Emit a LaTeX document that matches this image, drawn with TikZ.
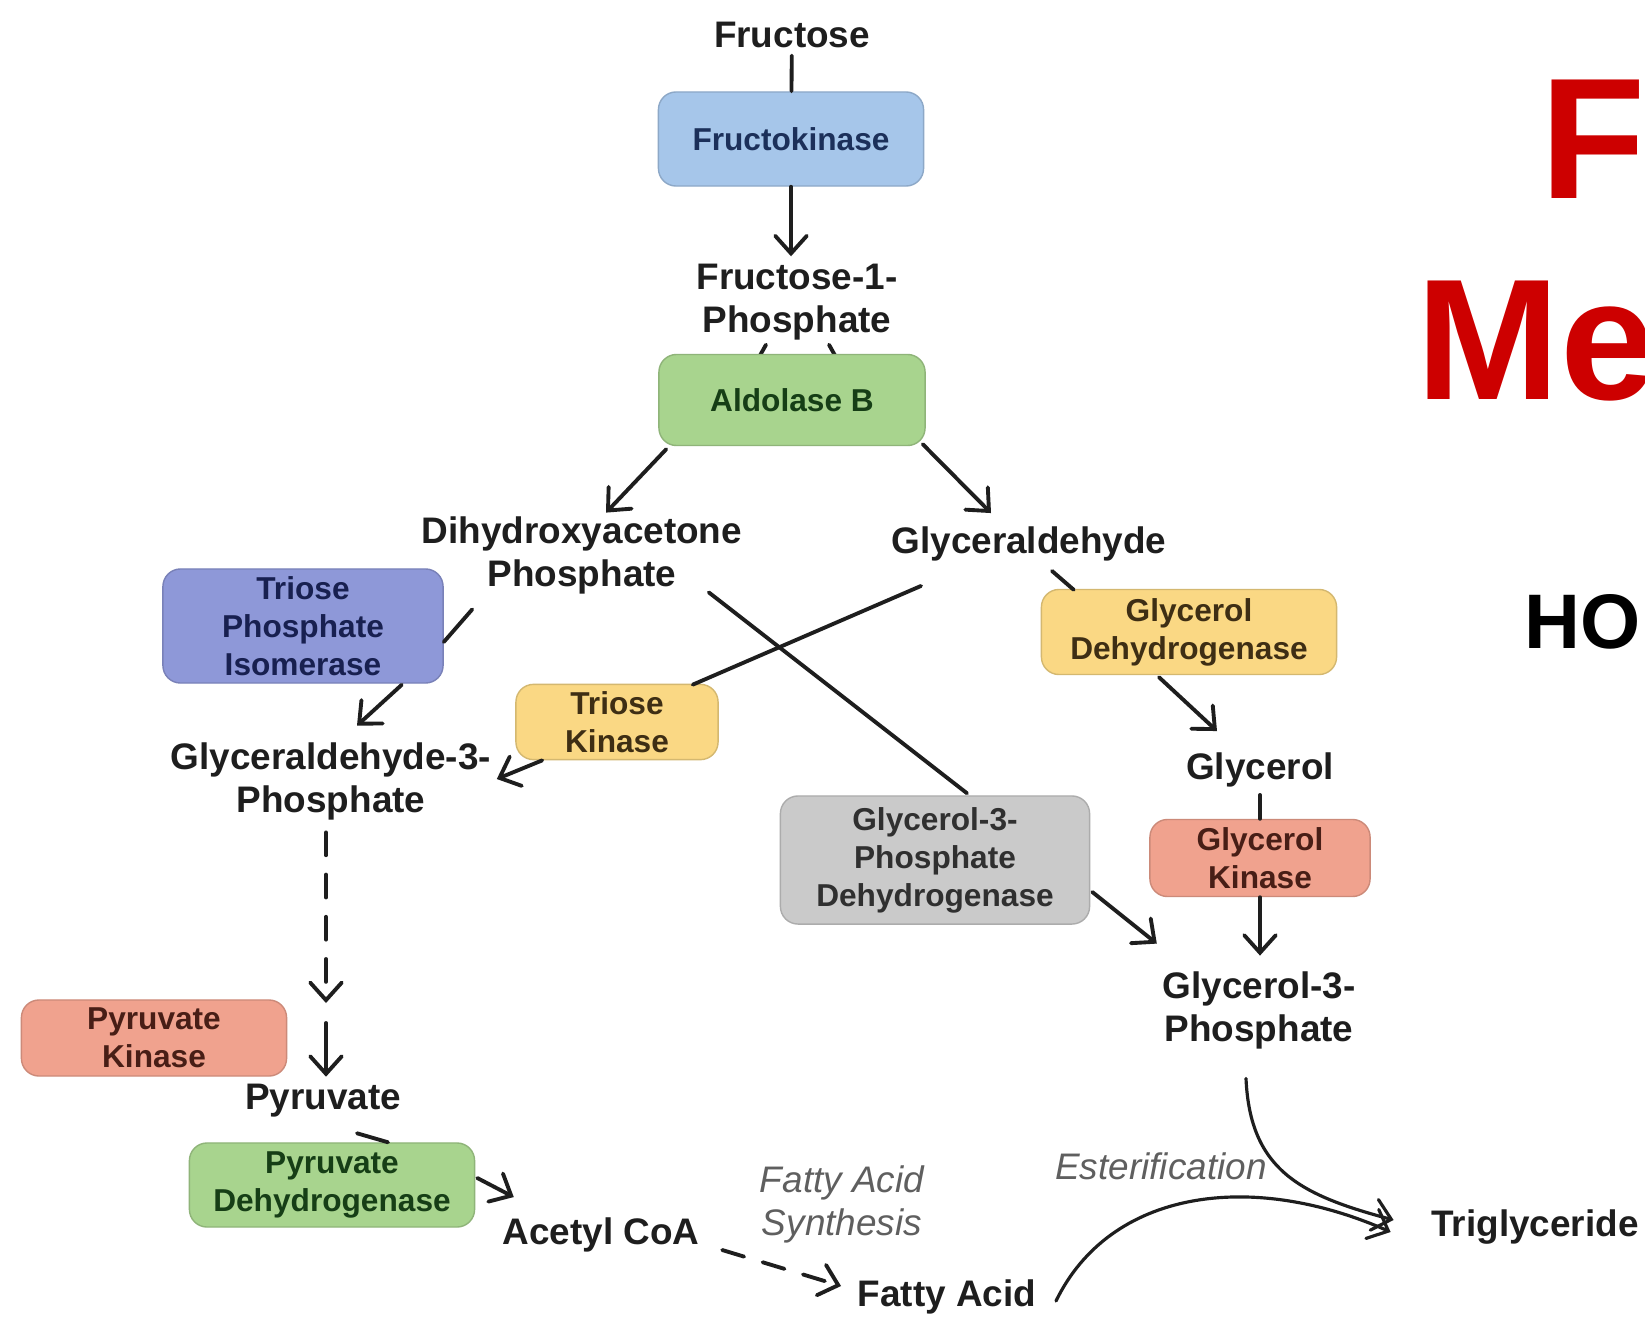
\documentclass[tikz,border=0pt]{standalone}
\usepackage{fontspec}
\setmainfont{Liberation Sans}
\usetikzlibrary{arrows.meta,calc}

\definecolor{txtdark}{RGB}{30,30,30}
\definecolor{labgrey}{RGB}{95,95,95}
\definecolor{titlered}{RGB}{205,0,0}
\definecolor{kinblue}{RGB}{166,198,234}
\definecolor{kinbluetxt}{RGB}{28,48,90}
\definecolor{aldgreen}{RGB}{168,212,142}
\definecolor{aldgreentxt}{RGB}{22,62,22}
\definecolor{isoblue}{RGB}{142,152,216}
\definecolor{isobluetxt}{RGB}{24,32,80}
\definecolor{kinyellow}{RGB}{250,216,132}
\definecolor{kinyellowtxt}{RGB}{62,46,20}
\definecolor{dhgrey}{RGB}{202,202,202}
\definecolor{dhgreytxt}{RGB}{48,48,48}
\definecolor{kinsalmon}{RGB}{240,162,142}
\definecolor{kinsalmontxt}{RGB}{72,30,22}

\begin{document}
\begin{tikzpicture}[x=0.01cm,y=-0.01cm,
    met/.style={font=\bfseries\fontsize{10.5}{12.2}\selectfont,align=center,inner sep=2pt,text=txtdark},
    enz/.style={rounded corners=5pt,font=\bfseries\fontsize{9}{10.8}\selectfont,align=center,inner sep=2pt,line width=0.4pt},
    lab/.style={font=\itshape\fontsize{10.5}{12.2}\selectfont,align=center,inner sep=2pt,text=labgrey},
    ln/.style={line width=1.1pt,draw=txtdark,line cap=round},
    arr/.style={ln,-{Straight Barb[length=5pt,width=9pt,line cap=round]}},
    dasharr/.style={arr,dash pattern=on 6.5pt off 5.5pt},
    ttl/.style={font=\bfseries\fontsize{49}{52}\selectfont,text=titlered,anchor=base west,inner sep=0pt}]

    \useasboundingbox (0,0) rectangle (1645,1318);
    \clip (0,0) rectangle (1645,1318);
    \fill[white] (0,0) rectangle (1645,1318);

    % title, cut off at the right edge
    \node[ttl] (ttlfr) at (1540,198) {F\kern-2.5pt r};
    \node[ttl] (ttlme) at (1416,399) {Me};
    \node[ttl,font=\bfseries\fontsize{22}{24}\selectfont,text=black] (ttlho) at (1524,648) {HO};

    % metabolites
    \node[met] (fru) at (792,35) {Fructose};
    \node[met] (f1p) at (797,302) {Fructose-1-\\Phosphate};
    \node[met] (dhap) at (582,555) {Dihydroxyacetone\\Phosphate};
    \node[met] (gly) at (1029,544) {Glyceraldehyde};
    \node[met] (g3p) at (331,781) {Glyceraldehyde-3-\\Phosphate};
    \node[met] (glol) at (1260,770) {Glycerol};
    \node[met] (g3pr) at (1259,1010) {Glycerol-3-\\Phosphate};
    \node[met] (pyr) at (323,1101) {Pyruvate};
    \node[met] (acoa) at (601,1235) {Acetyl CoA};
    \node[met] (fa) at (947,1297) {Fatty Acid};
    \node[met] (tg) at (1535,1227) {Triglyceride};

    \node[lab] (fas) at (842,1204) {Fatty Acid\\Synthesis};
    \node[lab] (est) at (1161,1166) {Esterification};

    % stubs under Aldolase B
    \draw[ln] ($(f1p.south)+(-31,-3)$) -- ++(-14,25);
    \draw[ln] ($(f1p.south)+(32,-3)$) -- ++(14,25);

    % enzymes
    \node[enz,fill=kinblue,draw=kinblue!85!black,text=kinbluetxt,minimum width=2.65cm,minimum height=0.94cm] (fk) at (791,139) {Fructokinase};
    \node[enz,fill=aldgreen,draw=aldgreen!85!black,text=aldgreentxt,minimum width=2.66cm,minimum height=0.91cm] (aldo) at (792,400) {Aldolase B};
    \node[enz,fill=isoblue,draw=isoblue!85!black,text=isobluetxt,minimum width=2.80cm,minimum height=1.14cm] (tpi) at (303,626) {Triose\\Phosphate\\Isomerase};
    \node[enz,fill=kinyellow,draw=kinyellow!85!black,text=kinyellowtxt,minimum width=2.02cm,minimum height=0.69cm] (tk) at (617,722) {Triose\\Kinase};
    \node[enz,fill=dhgrey,draw=dhgrey!85!black,text=dhgreytxt,minimum width=3.09cm,minimum height=1.28cm] (g3pdh) at (935,860) {Glycerol-3-\\Phosphate\\Dehydrogenase};
    \node[enz,fill=kinyellow,draw=kinyellow!85!black,text=kinyellowtxt,minimum width=2.95cm,minimum height=0.85cm] (gdh) at (1189,632) {Glycerol\\Dehydrogenase};
    \node[enz,fill=kinsalmon,draw=kinsalmon!85!black,text=kinsalmontxt,minimum width=2.20cm,minimum height=0.77cm] (gk) at (1260,858) {Glycerol\\Kinase};
    \node[enz,fill=kinsalmon,draw=kinsalmon!85!black,text=kinsalmontxt,minimum width=2.65cm,minimum height=0.76cm] (pk) at (154,1038) {Pyruvate\\Kinase};
    \node[enz,fill=aldgreen,draw=aldgreen!85!black,text=aldgreentxt,minimum width=2.85cm,minimum height=0.84cm] (pdh) at (332,1185) {Pyruvate\\Dehydrogenase};

    % connectors
    \draw[ln] (fru) -- (fk);
    \draw[arr] (fk.south) -- (fk.south |- f1p.north);
    \draw[arr] ($(aldo.south west)+(8,3)$) -- ($(dhap.north)+(24,4)$);
    \draw[arr] ($(aldo.south east)+(-3,-2)$) -- ($(gly.north)+(-38,-6)$);
    \draw[ln] ($(dhap.south west)+(58,8)$) -- ($(tpi.east)+(0,16)$);
    \draw[arr] ($(tpi.south east)+(-42,1)$) -- ($(g3p.north)+(26,-9)$);
    \draw[ln] ($(gly.south)+(-108,17)$) -- ($(tk.north east)+(-26,1)$);
    \draw[arr] ($(tk.south west)+(27,0)$) -- ($(g3p.east)+(-2,-2)$);
    \draw[ln] ($(dhap.south east)+(-41,-9)$) -- ($(g3pdh.north)+(32,-2)$);
    \draw[arr] ($(g3pdh.east)+(2,32)$) -- ($(g3pr.north west)+(2,-20)$);
    \draw[ln] ($(gly.south)+(23,2)$) -- ($(gdh.north west)+(33,1)$);
    \draw[arr] ($(gdh.south)+(-30,2)$) -- ($(glol.north)+(-43,-14)$);
    \draw[ln] (glol) -- (gk);
    \draw[arr] (gk.south) -- ($(gk.south |- g3pr.north)+(0,-8)$);
    \coordinate (pkin) at (326,1003);
    \draw[dasharr] ($(g3p.south)+(-5,5)$) -- (pkin);
    \draw[arr] ($(pkin)+(0,20)$) -- (pkin |- pyr.north);
    \draw[ln] ($(pyr.south)+(34,8)$) -- ($(pdh.north)+(56,0)$);
    \draw[arr] ($(pdh.east)+(2,-7)$) -- ($(acoa.north west)+(19,-13)$);
    \draw[dasharr] ($(acoa.east)+(15,15)$) -- ($(fa.west)+(-9,-11)$);
    \draw[arr,line width=0.9pt] ($(fa.east)+(12,4)$) .. controls (1110,1190) and (1250,1170) .. ($(tg.west)+(-33,5)$);
    \draw[arr,line width=0.9pt] ($(g3pr.south)+(-13,22)$) .. controls (1250,1170) and (1300,1195) .. ($(tg.west)+(-30,-7)$);
\end{tikzpicture}
\end{document}
